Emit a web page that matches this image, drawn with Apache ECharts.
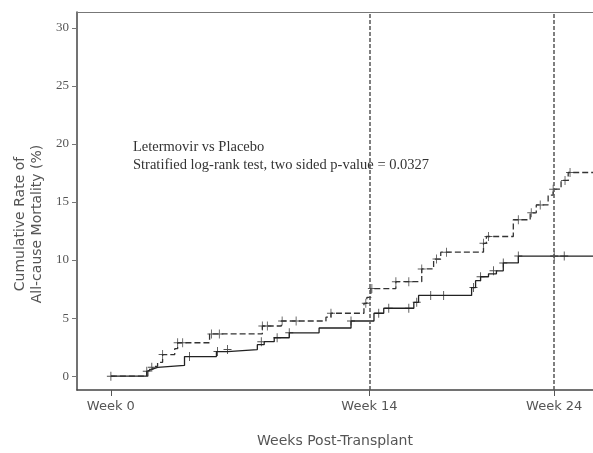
<!DOCTYPE html>
<html><head><meta charset="utf-8">
<script src="https://cdn.jsdelivr.net/npm/echarts@6/dist/echarts.min.js"></script>
<style>html,body{margin:0;padding:0;background:#fff}#c{width:593px;height:453px}</style>
</head><body><div id="c"></div>
<script>
// x in days post-transplant, y in cumulative mortality (%)
const xTickDays = [0, 98, 168];
const xTickLabels = ['Week 0', 'Week 14', 'Week 24'];
const yTicks = [0, 5, 10, 15, 20, 25, 30];
const refLineDays = [98, 168];

const letermovirSteps = [
  [0, 0], [13.6, 0.42], [14.0, 0.59], [15.5, 0.76], [17.7, 0.93], [27.9, 1.69],
  [40.0, 2.12], [44.2, 2.29], [55.5, 2.71], [58.1, 2.97], [61.9, 3.31], [67.6, 3.73],
  [78.9, 4.15], [91.0, 4.75], [99.7, 5.42], [103.4, 5.85], [114.8, 6.36], [116.6, 6.95],
  [136.7, 7.63], [138.2, 8.22], [140.1, 8.56], [143.1, 8.81], [146.1, 9.07],
  [148.7, 9.75], [154.4, 10.34], [182.7, 10.34]
];
const placeboSteps = [
  [0, 0], [14.0, 0.59], [15.9, 0.85], [17.7, 1.19], [19.6, 1.86], [24.2, 2.37],
  [25.3, 2.88], [37.4, 3.64], [57.4, 4.32], [64.6, 4.75], [81.5, 5.08], [83.4, 5.42],
  [95.9, 6.27], [97.0, 6.78], [98.5, 7.54], [108.0, 8.14], [117.8, 9.24], [122.3, 10.08],
  [125.0, 10.68], [141.2, 11.44], [142.3, 12.03], [152.5, 13.47], [158.9, 14.07],
  [161.2, 14.75], [165.7, 15.59], [167.6, 16.10], [170.6, 16.86], [173.3, 17.54],
  [182.7, 17.54]
];
const letermovirCensored = [
  [0, 0], [13.6, 0.42], [15.5, 0.76], [29.8, 1.69], [40.4, 2.12], [44.2, 2.29],
  [57.0, 2.97], [63.0, 3.31], [67.6, 3.73], [91.0, 4.75], [101.5, 5.42], [105.3, 5.85],
  [112.9, 5.85], [115.9, 6.36], [121.2, 6.95], [126.1, 6.95], [137.4, 7.63],
  [140.1, 8.56], [145.0, 9.07], [148.7, 9.75], [154.4, 10.34], [168.0, 10.34], [171.8, 10.34]
];
const placeboCensored = [
  [19.6, 1.86], [25.3, 2.88], [27.2, 2.88], [38.1, 3.64], [41.1, 3.64], [57.4, 4.32],
  [59.3, 4.32], [64.9, 4.75], [70.2, 4.75], [83.4, 5.42], [96.6, 6.27], [98.9, 7.54],
  [108.0, 8.14], [112.9, 8.14], [117.8, 9.24], [123.4, 10.08], [127.2, 10.68],
  [141.2, 11.44], [143.1, 12.03], [154.4, 13.47], [159.3, 14.07], [162.7, 14.75],
  [167.6, 16.10], [172.1, 16.86], [174.0, 17.54]
];

const plus = 'path://M4,0 L5,0 L5,9 L4,9 Z M0,4 L9,4 L9,5 L0,5 Z';
const chart = echarts.init(document.getElementById('c'));
chart.setOption({
  animation: false,
  backgroundColor: '#fff',
  grid: { left: 77, top: 12, right: -2, bottom: 57 },
  xAxis: [{
    type: 'value', min: -12.84, max: 182.7,
    name: 'Weeks Post-Transplant', nameLocation: 'middle', nameGap: 44,
    nameTextStyle: { fontFamily: 'DejaVu Sans', fontSize: 14, color: '#555' },
    axisLine: { show: true, onZero: false, lineStyle: { color: '#444', width: 1.5 } },
    axisTick: { show: true, length: 6, lineStyle: { color: '#555' }, customValues: xTickDays },
    axisLabel: { fontFamily: 'DejaVu Sans', fontSize: 13, color: '#555', margin: 10,
      customValues: xTickDays,
      formatter: v => xTickLabels[xTickDays.indexOf(v)] },
    splitLine: { show: false }
  }, {
    type: 'value', position: 'top', min: -12.84, max: 182.7,
    axisLine: { show: true, onZero: false, lineStyle: { color: '#777', width: 1 } },
    axisTick: { show: false }, axisLabel: { show: false }, splitLine: { show: false }
  }],
  yAxis: {
    type: 'value', min: -1.19, max: 31.36,
    axisLine: { show: true, onZero: false, lineStyle: { color: '#444', width: 1.5 } },
    axisTick: { show: true, length: 5, lineStyle: { color: '#777' }, customValues: yTicks },
    axisLabel: { fontFamily: 'Liberation Serif', fontSize: 13, color: '#555', margin: 8,
      customValues: yTicks },
    splitLine: { show: false }
  },
  graphic: [
    { type: 'text', x: 20, y: 224, rotation: Math.PI / 2,
      style: { text: 'Cumulative Rate of', align: 'center', verticalAlign: 'middle',
        font: '14px "DejaVu Sans"', fill: '#555' } },
    { type: 'text', x: 37, y: 224, rotation: Math.PI / 2,
      style: { text: 'All-cause Mortality (%)', align: 'center', verticalAlign: 'middle',
        font: '14px "DejaVu Sans"', fill: '#555' } },
    { type: 'text', x: 133, y: 147,
      style: { text: 'Letermovir vs Placebo', align: 'left', verticalAlign: 'middle',
        font: '14.5px "Liberation Serif"', fill: '#333' } },
    { type: 'text', x: 133, y: 165,
      style: { text: 'Stratified log-rank test, two sided p-value = 0.0327', align: 'left', verticalAlign: 'middle',
        font: '14.5px "Liberation Serif"', fill: '#333' } }
  ],
  series: [
    { type: 'line', name: 'Letermovir', data: letermovirSteps, step: 'end', showSymbol: false,
      lineStyle: { color: '#222', width: 1.3 },
      markLine: { silent: true, symbol: 'none', label: { show: false },
        lineStyle: { color: '#555', width: 1.5, type: [4, 2] },
        data: refLineDays.map(d => ({ xAxis: d })) } },
    { type: 'line', name: 'Placebo', data: placeboSteps, step: 'end', showSymbol: false,
      lineStyle: { color: '#333', width: 1.3, type: [6, 3] } },
    { type: 'scatter', data: letermovirCensored, symbol: plus, symbolSize: [8, 9],
      itemStyle: { color: '#222' } },
    { type: 'scatter', data: placeboCensored, symbol: plus, symbolSize: [8, 9],
      itemStyle: { color: '#333' } }
  ]
});
</script>
</body></html>
